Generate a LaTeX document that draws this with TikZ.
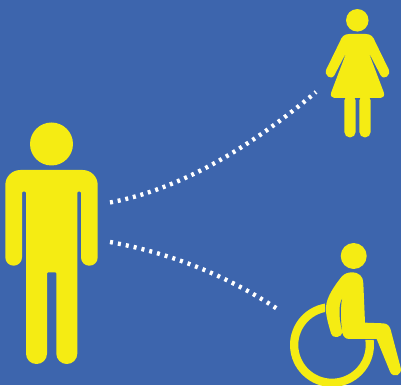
\documentclass[tikz,border=0pt]{standalone}
\definecolor{bgblue}{HTML}{3D65AD}
\definecolor{signyellow}{HTML}{F5EC13}
\tikzset{
  shape fill/.style={fill=signyellow,draw=none},
  headdot/.style={circle,fill=signyellow,draw=none,inner sep=0pt},
  walkdots/.style={draw=white,line width=4.4pt,dash pattern=on 3pt off #1},
}
\begin{document}
\begin{tikzpicture}[x=1pt,y=1pt]
\useasboundingbox (0,0) rectangle (401,385);
\fill[bgblue] (0,0) rectangle (401,385);
\begin{scope}[shift={(0,385)},yscale=-1]
  % man
  \node[headdot,minimum size=43pt] (manhead) at (51.5,144) {};
  \fill[shape fill] (22,191.7)
    [rounded corners=8.3pt] -- (22,265.7) -- (5.3,265.7)
    [rounded corners=15pt] -- (5.3,170) -- (97.7,170)
    [rounded corners=8.2pt] -- (97.7,265.7) -- (81,265.7)
    [rounded corners=1pt] -- (81,191.7) -- (77.3,191.7)
    [rounded corners=10.4pt] -- (77.3,364) -- (56.3,364)
    [rounded corners=1pt] -- (56.3,272.3) -- (47,272.3)
    [rounded corners=10.4pt] -- (47,364) -- (26,364)
    [rounded corners=1pt] -- (26,191.7) -- cycle;
  % woman
  \node[headdot,minimum size=22.5pt] (womanhead) at (357.3,20.3) {};
  \begin{scope}[shift={(310,0)},scale=1/3]
    \fill[shape fill] (118,102) -- (167,102)
      .. controls (182,102) and (190,110) .. (195,124)
      -- (236,208)
      .. controls (244,226) and (222,242) .. (212,226)
      -- (175,155) -- (221,276)
      .. controls (225,287) and (220,294) .. (212,294)
      -- (73,294)
      .. controls (65,294) and (60,287) .. (64,276)
      -- (110,155) -- (73,226)
      .. controls (63,242) and (41,226) .. (49,208)
      -- (90,124)
      .. controls (95,110) and (103,102) .. (118,102) -- cycle;
    \fill[shape fill,rounded corners=5.6pt] (103,285) rectangle (137,412.5);
    \fill[shape fill,rounded corners=5.6pt] (148,285) rectangle (182,412.5);
  \end{scope}
  % wheelchair user
  \node[headdot,minimum size=26pt] (userhead) at (353.7,256) {};
  \fill[shape fill] (373.7,340) arc[start angle=-6.8,end angle=260.4,radius=42]
    -- (325,312) arc[start angle=258,end angle=-8.5,radius=33.7] -- cycle;
  \begin{scope}[shift={(280,235)},scale=1/3]
    \fill[shape fill] (215,112)
      .. controls (238,112) and (250,125) .. (250,145)
      -- (255,263) -- (310,265)
      .. controls (322,266) and (328,272) .. (332,284)
      -- (362,398)
      .. controls (368,420) and (340,432) .. (330,410)
      -- (290,312) -- (208,312)
      .. controls (196,312) and (189,304) .. (187,293)
      .. controls (186,305) and (160,315) .. (153,295)
      .. controls (146,270) and (136,240) .. (138,215)
      .. controls (140,185) and (165,150) .. (185,125)
      .. controls (193,116) and (204,112) .. (215,112) -- cycle;
    \fill[bgblue] (186,192) .. controls (178,205) and (174,240) .. (186,285)
      .. controls (180,240) and (182,215) .. (186,192) -- cycle;
  \end{scope}
  % connectors
  \coordinate (topstart) at (110,202.5);
  \coordinate (topend) at (316,92);
  \coordinate (botstart) at (110,242);
  \coordinate (botend) at (277.5,309);
  \draw[walkdots=4.83pt] (topstart) .. controls (174.7,190.2) and (243.3,153.3) .. (topend);
  \draw[walkdots=5.05pt] (botstart) .. controls (170.7,253.2) and (226.3,275.3) .. (botend);
\end{scope}
\end{tikzpicture}
\end{document}
